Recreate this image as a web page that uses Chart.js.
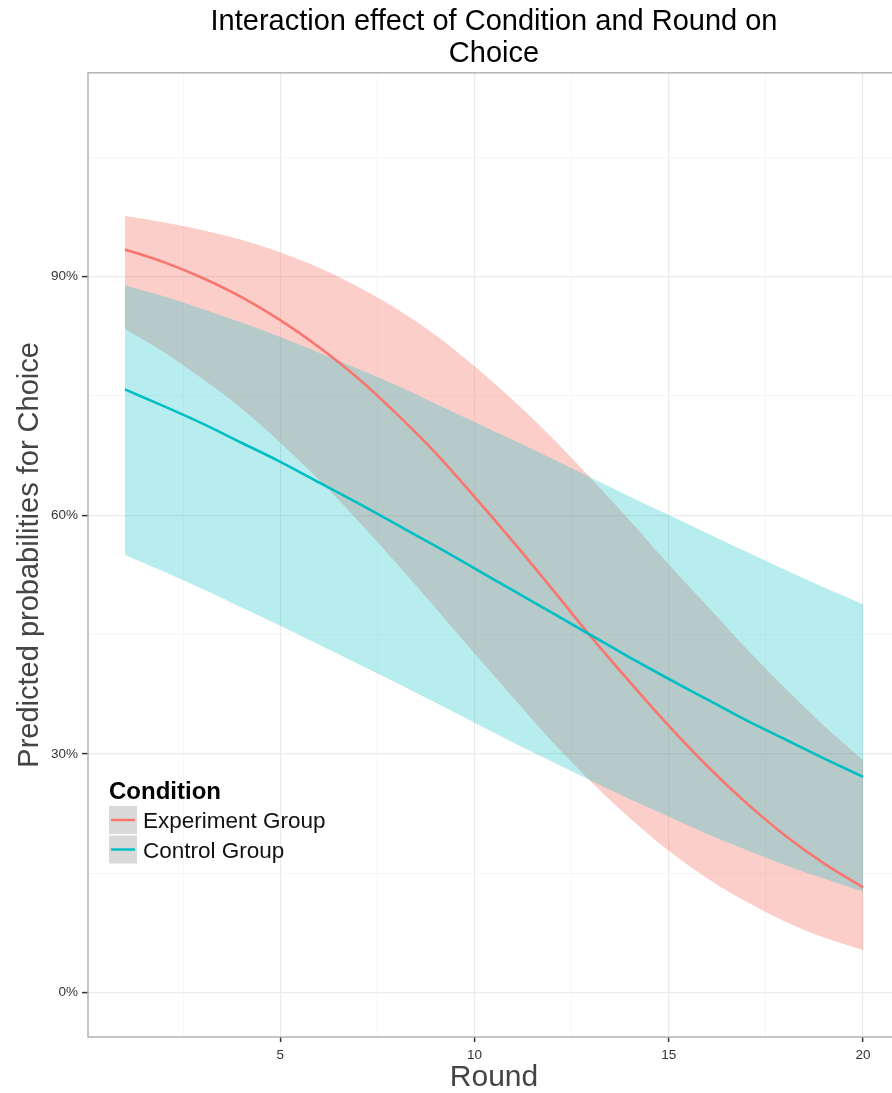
<!DOCTYPE html>
<html>
<head>
<meta charset="utf-8">
<script src="https://cdn.jsdelivr.net/npm/chart.js@4.4.0/dist/chart.umd.min.js"></script>
<style>
  html, body { margin: 0; padding: 0; overflow: hidden; background: #fff; }
</style>
</head>
<body>
<canvas id="chart" width="900" height="1093"></canvas>
<script>
// ---- data (probabilities in %) ----
const rounds = [1, 2, 3, 4, 5, 6, 7, 8, 9, 10, 11, 12, 13, 14, 15, 16, 17, 18, 19, 20];

const expFit   = [93.4, 91.8, 89.8, 87.4, 84.5, 81.1, 77.2, 72.7, 67.8, 62.3, 56.6, 50.7, 44.7, 39.0, 33.5, 28.4, 23.8, 19.7, 16.2, 13.2];
const expUpper = [97.6, 96.8, 95.8, 94.6, 93.0, 91.1, 88.7, 85.9, 82.6, 78.7, 74.4, 69.7, 64.6, 59.3, 53.8, 48.5, 43.2, 38.2, 33.5, 29.2];
const expLower = [83.4, 80.5, 77.1, 73.4, 69.1, 64.4, 59.3, 53.9, 48.3, 42.6, 37.0, 31.5, 26.5, 21.9, 17.8, 14.3, 11.4, 8.9, 6.9, 5.3];

const ctlFit   = [75.8, 73.7, 71.5, 69.1, 66.7, 64.1, 61.5, 58.8, 56.1, 53.3, 50.5, 47.7, 44.9, 42.1, 39.4, 36.8, 34.2, 31.8, 29.4, 27.1];
const ctlUpper = [88.9, 87.5, 85.9, 84.2, 82.4, 80.4, 78.4, 76.3, 74.0, 71.7, 69.4, 67.1, 64.7, 62.3, 60.0, 57.7, 55.4, 53.1, 50.9, 48.8];
const ctlLower = [55.0, 52.9, 50.7, 48.4, 46.1, 43.7, 41.3, 38.9, 36.4, 33.9, 31.4, 29.0, 26.6, 24.3, 22.1, 19.9, 17.9, 16.0, 14.3, 12.7];

const xTicks = [2.5, 5, 7.5, 10, 12.5, 15, 17.5, 20];
const yTicks = [0, 15, 30, 45, 60, 75, 90, 105];
const groupNames = ['Experiment Group', 'Control Group'];

const RED = '#F8766D';
const CYAN = '#00BFC4';
const FONT = '"Liberation Sans", Arial, Helvetica, sans-serif';

function pts(arr) {
    return rounds.map((r, i) => ({ x: r, y: arr[i] }));
}

function band(arr, fill, color, order) {
    return {
        data: pts(arr),
        fill: fill,
        backgroundColor: color,
        borderColor: 'rgba(0,0,0,0)',
        borderWidth: 0,
        pointRadius: 0,
        cubicInterpolationMode: 'monotone',
        order: order
    };
}

// border round the panel + legend drawn inside the panel
const panelPlugin = {
    id: 'panel',
    afterDatasetsDraw(chart) {
        const { ctx, chartArea: a } = chart;
        ctx.save();
        ctx.strokeStyle = '#b3b3b3';
        ctx.lineWidth = 1.5;
        ctx.strokeRect(a.left, a.top, a.right - a.left, a.bottom - a.top);

        // legend
        const colors = [RED, CYAN];
        ctx.fillStyle = '#000';
        ctx.font = 'bold 24px ' + FONT;
        ctx.textBaseline = 'alphabetic';
        ctx.fillText('Condition', 109, 799);
        ctx.font = '22.5px ' + FONT;
        groupNames.forEach((name, i) => {
            const top = 806 + i * 29.5;
            ctx.fillStyle = '#d9d9d9';
            ctx.fillRect(109, top, 28, 28);
            ctx.strokeStyle = colors[i];
            ctx.lineWidth = 2.5;
            ctx.beginPath();
            ctx.moveTo(111, top + 14);
            ctx.lineTo(135, top + 14);
            ctx.stroke();
            ctx.fillStyle = '#111';
            ctx.fillText(name, 143, top + 22);
        });
        ctx.restore();
    }
};

new Chart(document.getElementById('chart'), {
    type: 'line',
    data: {
        datasets: [
            band(expUpper, '+1', 'rgba(248,118,109,0.36)', 4),
            band(expLower, false, 'rgba(0,0,0,0)', 4),
            band(ctlUpper, '+1', 'rgba(0,191,196,0.28)', 3),
            band(ctlLower, false, 'rgba(0,0,0,0)', 3),
            {
                label: groupNames[0],
                data: pts(expFit),
                borderColor: RED,
                borderWidth: 2.6,
                pointRadius: 0,
                fill: false,
                cubicInterpolationMode: 'monotone',
                order: 2
            },
            {
                label: groupNames[1],
                data: pts(ctlFit),
                borderColor: CYAN,
                borderWidth: 2.6,
                pointRadius: 0,
                fill: false,
                cubicInterpolationMode: 'monotone',
                order: 1
            }
        ]
    },
    options: {
        responsive: false,
        animation: false,
        devicePixelRatio: 1,
        layout: { padding: 0 },
        plugins: {
            legend: { display: false },
            tooltip: { enabled: false },
            title: {
                display: true,
                fullSize: false,
                text: ['Interaction effect of Condition and Round on', 'Choice'],
                color: '#000',
                font: { family: FONT, size: 29, weight: 'normal', lineHeight: 1.1 },
                padding: { top: 6, bottom: 3 }
            }
        },
        scales: {
            x: {
                type: 'linear',
                min: 0.05,
                max: 20.95,
                afterBuildTicks: s => { s.ticks = xTicks.map(v => ({ value: v })); },
                afterFit: s => { s.height = 56; },
                ticks: {
                    autoSkip: false,
                    maxRotation: 0,
                    padding: 5,
                    color: '#333',
                    font: { family: FONT, size: 13.5 },
                    callback: v => (v % 5 === 0 ? String(v) : '')
                },
                grid: {
                    color: c => (c.tick && c.tick.value % 5 === 0 ? '#ebebeb' : '#f4f4f4'),
                    lineWidth: c => (c.tick && c.tick.value % 5 === 0 ? 1.2 : 0.8),
                    tickLength: 5,
                    tickColor: c => (c.tick && c.tick.value % 5 === 0 ? '#333' : 'rgba(0,0,0,0)'),
                    tickWidth: 1.5
                },
                border: { display: false },
                title: {
                    display: true,
                    text: 'Round',
                    color: '#444',
                    font: { family: FONT, size: 30, lineHeight: 1.0 },
                    padding: 0
                }
            },
            y: {
                min: -5.6,
                max: 115.6,
                afterBuildTicks: s => { s.ticks = yTicks.map(v => ({ value: v })); },
                afterFit: s => { s.width = 88; },
                ticks: {
                    padding: 4,
                    color: '#333',
                    font: { family: FONT, size: 13.5 },
                    callback: v => (v % 30 === 0 ? v + '%' : '')
                },
                grid: {
                    color: c => (c.tick && c.tick.value % 30 === 0 ? '#ebebeb' : '#f4f4f4'),
                    lineWidth: c => (c.tick && c.tick.value % 30 === 0 ? 1.2 : 0.8),
                    tickLength: 6,
                    tickColor: c => (c.tick && c.tick.value % 30 === 0 ? '#333' : 'rgba(0,0,0,0)'),
                    tickWidth: 1.5
                },
                border: { display: false },
                title: {
                    display: true,
                    text: 'Predicted probabilities for Choice',
                    color: '#444',
                    font: { family: FONT, size: 29, lineHeight: 1.2 },
                    padding: { top: 13, bottom: 0 }
                }
            }
        }
    },
    plugins: [panelPlugin]
});
</script>
</body>
</html>
